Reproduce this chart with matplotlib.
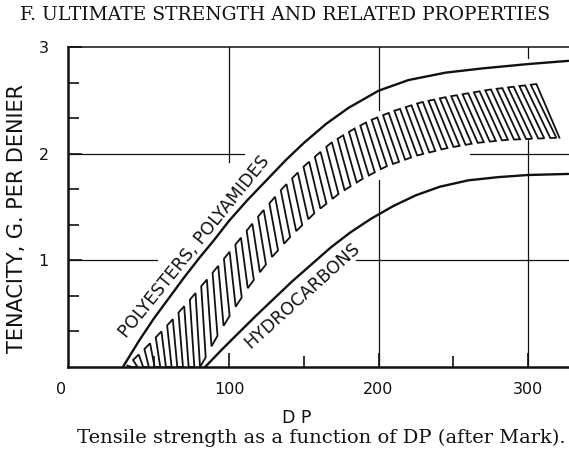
import numpy as np
import matplotlib
matplotlib.use("Agg")
import matplotlib.pyplot as plt
from matplotlib.transforms import ScaledTranslation

# ---- data ----
poly_dp = [29, 40, 50, 60, 70, 80, 90, 100, 112, 125, 138, 150, 165, 180, 200, 220, 245, 270, 300, 327]
poly_t = [0.0, 0.25, 0.46, 0.65, 0.84, 1.02, 1.19, 1.37, 1.56, 1.75, 1.94, 2.10, 2.28, 2.43, 2.59, 2.69, 2.76, 2.80, 2.84, 2.87]

hydro_dp = [84, 95, 105, 118, 130, 142, 155, 168, 181, 195, 210, 225, 241, 260, 280, 300, 327]
hydro_t = [0.0, 0.16, 0.30, 0.48, 0.64, 0.80, 0.96, 1.12, 1.26, 1.39, 1.51, 1.61, 1.69, 1.75, 1.78, 1.80, 1.81]

band_up_dp = [31, 45, 60, 75, 90, 105, 120, 136, 150, 168, 182, 194, 210, 228, 245, 274, 310]
band_up_t = [0.0, 0.19, 0.41, 0.65, 0.90, 1.16, 1.42, 1.68, 1.88, 2.10, 2.22, 2.31, 2.40, 2.48, 2.53, 2.60, 2.66]
band_lo_dp = [81, 90, 100, 114, 128, 141, 157, 174, 190, 205, 225, 245, 265, 286, 321]
band_lo_t = [0.0, 0.24, 0.47, 0.77, 1.02, 1.22, 1.44, 1.63, 1.77, 1.88, 1.98, 2.05, 2.10, 2.13, 2.15]

x_ticks = [0, 100, 200, 300]
x_ticklabels = ["0", "100", "200", "300"]
y_ticks = [1, 2, 3]
y_ticklabels = ["1", "2", "3"]

title_text = "F. ULTIMATE STRENGTH AND RELATED PROPERTIES"
caption_text = "Tensile strength as a function of DP (after Mark)."
xlabel_text = "D P"
ylabel_text = "TENACITY, G. PER DENIER"
label_poly = "POLYESTERS, POLYAMIDES"
label_hydro = "HYDROCARBONS"

# partial reference lines (value, start, end)
grid_h = [(2, -8, 110), (2, 261, 330), (1, -8, 52), (1, 185, 330)]
grid_v = [(100, 1.92, 3), (200, 2.41, 3), (200, 0, 1.75), (300, 2.9, 3), (300, 0, 2.13)]

# ---- figure ----
fig = plt.figure(figsize=(5.69, 4.51), dpi=100)
ax = fig.add_axes([68 / 569, 1 - 367 / 451, (569 - 68) / 569, (367 - 47) / 451])
ax.set_xlim(-7.7, 327.4)
ax.set_ylim(0, 3)

ink = "#111111"
sans = "DejaVu Sans"
serif = "DejaVu Serif"

for v, a, b in grid_h:
    ax.plot([a, b], [v, v], color=ink, lw=0.9, zorder=1)
for v, a, b in grid_v:
    ax.plot([v, v], [a, b], color=ink, lw=0.9, zorder=1)

ax.plot(poly_dp, poly_t, color=ink, lw=1.7, zorder=3, solid_capstyle="round", solid_joinstyle="round")
ax.plot(hydro_dp, hydro_t, color=ink, lw=1.7, zorder=3, solid_capstyle="round", solid_joinstyle="round")

# hatched band drawn as a meander between its two edges
ds = np.arange(32, 308, 3.8)
pts = []
for i, d in enumerate(ds):
    s = np.clip(5 + 0.065 * (d - 115), 3, 18)
    d2 = min(d + s, band_lo_dp[-1])
    U = (d, np.interp(d, band_up_dp, band_up_t))
    L = (d2, np.interp(d2, band_lo_dp, band_lo_t, left=0.0))
    pts += [U, L] if i % 2 == 0 else [L, U]
pts = np.array(pts)
ax.plot(pts[:, 0], pts[:, 1], color=ink, lw=1.3, zorder=2, solid_joinstyle="miter")

# spines
for side in ["left", "bottom"]:
    ax.spines[side].set_linewidth(1.8)
    ax.spines[side].set_color(ink)
ax.spines["top"].set_linewidth(1.1)
ax.spines["top"].set_color(ink)
ax.spines["right"].set_visible(False)

ax.set_xticks(x_ticks)
ax.set_xticklabels(x_ticklabels, fontfamily=sans, fontsize=11.5)
ax.set_xticks([50, 150, 250], minor=True)
ax.set_yticks(y_ticks)
ax.set_yticklabels(y_ticklabels, fontfamily=sans, fontsize=11.5)
ax.set_yticks([1 / 3, 2 / 3, 4 / 3, 5 / 3, 7 / 3, 8 / 3], minor=True)
ax.tick_params(axis="both", which="major", direction="in", length=10, width=1.2, color=ink, labelcolor=ink)
ax.tick_params(axis="both", which="minor", direction="in", length=8, width=1.2, color=ink)
ax.tick_params(axis="x", which="major", pad=11)
ax.tick_params(axis="y", which="major", pad=14)
ax.tick_params(top=False, right=False, which="both")

ax.set_xlabel(xlabel_text, fontfamily=sans, fontsize=12.5, color=ink)
ax.xaxis.set_label_coords((297 - 68) / 501, -42 / 320)
ax.set_ylabel(ylabel_text, fontfamily=sans, fontsize=15, color=ink)
ax.yaxis.set_label_coords((27 - 68) / 501, (367 - 219) / 320)

ax.text(77, 1.13, label_poly, rotation=51, rotation_mode="anchor", ha="center", va="center",
        fontfamily=sans, fontsize=12.5, color=ink, zorder=4)
ax.text(149, 0.67, label_hydro, rotation=42, rotation_mode="anchor", ha="center", va="center",
        fontfamily=sans, fontsize=12.5, color=ink, zorder=4)

fig.text(285 / 569, 1 - 15 / 451, title_text, ha="center", va="center",
         fontfamily=serif, fontsize=13.5, color=ink)
fig.text(321 / 569, 1 - 438 / 451, caption_text, ha="center", va="center",
         fontfamily=serif, fontsize=14, color=ink)

# first x tick: no tick mark, label shifted left like the reference
t0 = ax.xaxis.get_major_ticks()[0]
t0.tick1line.set_visible(False)
t0.label1.set_transform(t0.label1.get_transform() + ScaledTranslation(-0.18, 0, fig.dpi_scale_trans))

fig.savefig("out.png", dpi=100)
